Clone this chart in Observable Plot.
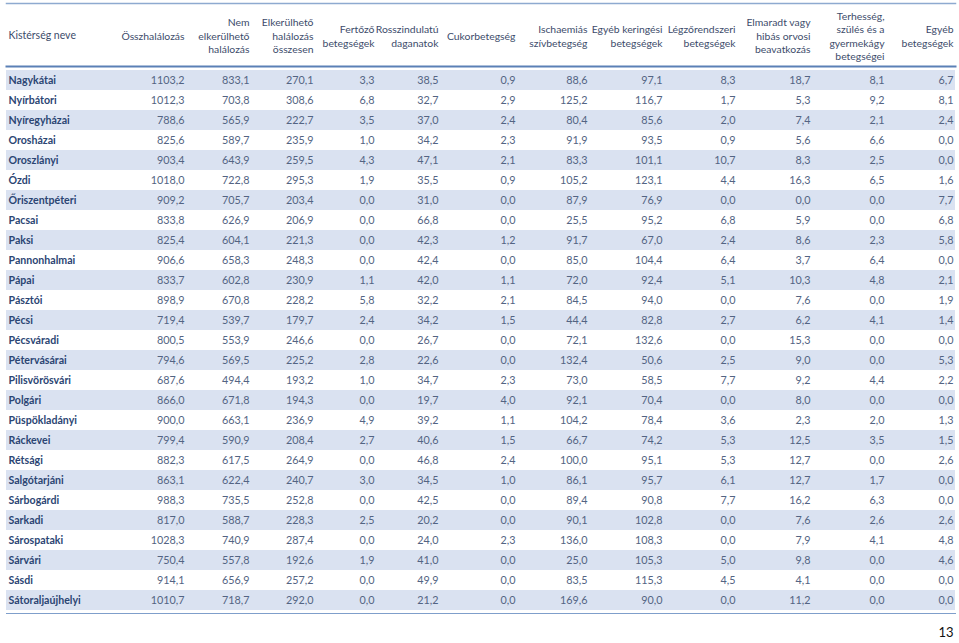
<!DOCTYPE html>
<html><head><meta charset="utf-8">
<script src="https://cdn.jsdelivr.net/npm/d3@7"></script>
<script src="https://cdn.jsdelivr.net/npm/@observablehq/plot@0.6"></script>
<style>body{margin:0;background:#fff;overflow:hidden}</style>
</head><body><div id="chart"></div>
<script>
// ---- DATA ----
const districts = ["Nagykátai","Nyírbátori","Nyíregyházai","Orosházai","Oroszlányi","Ózdi","Őriszentpéteri","Pacsai","Paksi","Pannonhalmai","Pápai","Pásztói","Pécsi","Pécsváradi","Pétervásárai","Pilisvörösvári","Polgári","Püspökladányi","Ráckevei","Rétsági","Salgótarjáni","Sárbogárdi","Sarkadi","Sárospataki","Sárvári","Sásdi","Sátoraljaújhelyi"];
const headers = ["Kistérség neve","Összhalálozás","Nem\nelkerülhető\nhalálozás","Elkerülhető\nhalálozás\nösszesen","Fertőző\nbetegségek","Rosszindulatú\ndaganatok","Cukorbetegség","Ischaemiás\nszívbetegség","Egyéb keringési\nbetegségek","Légzőrendszeri\nbetegségek","Elmaradt vagy\nhibás orvosi\nbeavatkozás","Terhesség,\nszülés és a\ngyermekágy\nbetegségei","Egyéb\nbetegségek"];
const osszhalalozas = [1103.2,1012.3,788.6,825.6,903.4,1018.0,909.2,833.8,825.4,906.6,833.7,898.9,719.4,800.5,794.6,687.6,866.0,900.0,799.4,882.3,863.1,988.3,817.0,1028.3,750.4,914.1,1010.7];
const nemElkerulheto = [833.1,703.8,565.9,589.7,643.9,722.8,705.7,626.9,604.1,658.3,602.8,670.8,539.7,553.9,569.5,494.4,671.8,663.1,590.9,617.5,622.4,735.5,588.7,740.9,557.8,656.9,718.7];
const elkerulheto = [270.1,308.6,222.7,235.9,259.5,295.3,203.4,206.9,221.3,248.3,230.9,228.2,179.7,246.6,225.2,193.2,194.3,236.9,208.4,264.9,240.7,252.8,228.3,287.4,192.6,257.2,292.0];
const fertozo = [3.3,6.8,3.5,1.0,4.3,1.9,0.0,0.0,0.0,0.0,1.1,5.8,2.4,0.0,2.8,1.0,0.0,4.9,2.7,0.0,3.0,0.0,2.5,0.0,1.9,0.0,0.0];
const rosszindulatu = [38.5,32.7,37.0,34.2,47.1,35.5,31.0,66.8,42.3,42.4,42.0,32.2,34.2,26.7,22.6,34.7,19.7,39.2,40.6,46.8,34.5,42.5,20.2,24.0,41.0,49.9,21.2];
const cukor = [0.9,2.9,2.4,2.3,2.1,0.9,0.0,0.0,1.2,0.0,1.1,2.1,1.5,0.0,0.0,2.3,4.0,1.1,1.5,2.4,1.0,0.0,0.0,2.3,0.0,0.0,0.0];
const ischaemias = [88.6,125.2,80.4,91.9,83.3,105.2,87.9,25.5,91.7,85.0,72.0,84.5,44.4,72.1,132.4,73.0,92.1,104.2,66.7,100.0,86.1,89.4,90.1,136.0,25.0,83.5,169.6];
const egyebKeringesi = [97.1,116.7,85.6,93.5,101.1,123.1,76.9,95.2,67.0,104.4,92.4,94.0,82.8,132.6,50.6,58.5,70.4,78.4,74.2,95.1,95.7,90.8,102.8,108.3,105.3,115.3,90.0];
const legzo = [8.3,1.7,2.0,0.9,10.7,4.4,0.0,6.8,2.4,6.4,5.1,0.0,2.7,0.0,2.5,7.7,0.0,3.6,5.3,5.3,6.1,7.7,0.0,0.0,5.0,4.5,0.0];
const elmaradt = [18.7,5.3,7.4,5.6,8.3,16.3,0.0,5.9,8.6,3.7,10.3,7.6,6.2,15.3,9.0,9.2,8.0,2.3,12.5,12.7,12.7,16.2,7.6,7.9,9.8,4.1,11.2];
const terhesseg = [8.1,9.2,2.1,6.6,2.5,6.5,0.0,0.0,2.3,6.4,4.8,0.0,4.1,0.0,0.0,4.4,0.0,2.0,3.5,0.0,1.7,6.3,2.6,4.1,0.0,0.0,0.0];
const egyeb = [6.7,8.1,2.4,0.0,0.0,1.6,7.7,6.8,5.8,0.0,2.1,1.9,1.4,0.0,5.3,2.2,0.0,1.3,1.5,2.6,0.0,0.0,2.6,4.8,4.6,0.0,0.0];
const pageNumber = "13";

// ---- LAYOUT (column widths, in table units; first = name + first numeric column) ----
const series = [osszhalalozas, nemElkerulheto, elkerulheto, fertozo, rosszindulatu, cukor, ischaemias, egyebKeringesi, legzo, elmaradt, terhesseg, egyeb];
const colWidths = [180, 65, 64, 61, 64, 77, 72, 75, 73, 75, 74, 69];
const colRight = d3.cumsum(colWidths);
const total = d3.sum(colWidths);

const fmt = v => d3.format(".1f")(v).replace(".", ",");
const cells = series.flatMap((vals, j) => vals.map((v, i) => ({district: districts[i], col: j, value: v})));
const headerCells = headers.slice(1).map((label, col) => ({label, col}));
const shaded = districts.filter((d, i) => i % 2 === 0);

const font = "Lato, 'Open Sans', sans-serif";
const chart = Plot.plot({
  width: 959, height: 643,
  marginTop: 66, marginBottom: 30, marginLeft: 6, marginRight: 4,
  x: {domain: [0, total], axis: null},
  y: {domain: districts, axis: null, padding: 0},
  style: {fontFamily: font, fontSize: "10.5px", background: "#fff"},
  marks: [
    Plot.cell(shaded, {y: d => d, fill: "#DAE2F1"}),
    Plot.frame({anchor: "top", stroke: "#8EAAD0", strokeWidth: 1.5, dy: -63}),
    Plot.frame({anchor: "top", stroke: "#5B80B6", strokeWidth: 2}),
    Plot.frame({anchor: "bottom", stroke: "#7F9FCB", strokeWidth: 1}),
    Plot.text([headers[0]], {x: () => 0, frameAnchor: "top", dy: -31, dx: 2, text: d => d, textAnchor: "start", lineAnchor: "middle", fontSize: 10.5, fill: "#3D4C6B"}),
    Plot.text(headerCells, {x: d => colRight[d.col], frameAnchor: "top", dy: -31, dx: -2, text: "label", textAnchor: "end", lineAnchor: "middle", lineHeight: 1.3, fontSize: 10.4, fill: "#3D4C6B"}),
    Plot.text(districts, {x: () => 0, y: d => d, text: d => d, dx: 2, textAnchor: "start", fontWeight: "bold", fontSize: 10.6, fill: "#2B4573"}),
    Plot.text(cells, {x: d => colRight[d.col], y: "district", text: d => fmt(d.value), dx: -2, textAnchor: "end", fontSize: 10.8, fill: "#536483"}),
    Plot.text([pageNumber], {frameAnchor: "bottom-right", text: d => d, dy: 23, dx: -2, fontSize: 13, fill: "#111"})
  ]
});
document.getElementById("chart").append(chart);
</script>
</body></html>
